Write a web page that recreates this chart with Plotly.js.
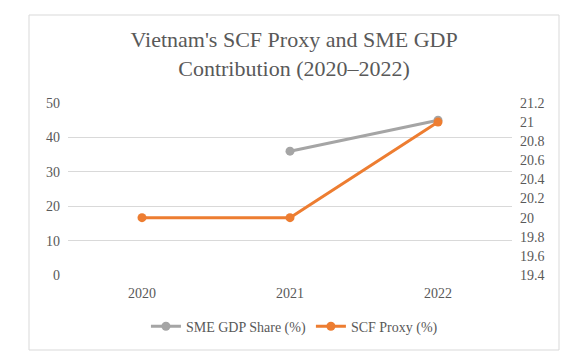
<!DOCTYPE html>
<html><head><meta charset="utf-8">
<script src="https://cdn.plot.ly/plotly-3.0.1.min.js"></script>
<style>html,body{margin:0;padding:0;background:#fff;}#chart{width:571px;height:360px;}</style>
</head><body><div id="chart"></div>
<script>
const years = ['2020', '2021', '2022'];
const smeGdpShare = [null, 36, 45];
const scfProxy = [20, 20, 21];
const titleText = "Vietnam's SCF Proxy and SME GDP<br>Contribution (2020–2022)";

const FONT = '"Liberation Serif", "Times New Roman", serif';
const TXT = '#595959';
const f = (s) => ({family: FONT, size: s, color: TXT});

const traces = [
  {x: years, y: smeGdpShare, name: 'SME GDP Share (%)', type: 'scatter', mode: 'lines+markers',
   line: {color: '#A5A5A5', width: 3}, marker: {color: '#A5A5A5', size: 9}, yaxis: 'y', connectgaps: false},
  {x: years, y: scfProxy, name: 'SCF Proxy (%)', type: 'scatter', mode: 'lines+markers',
   line: {color: '#ED7D31', width: 3}, marker: {color: '#ED7D31', size: 9}, yaxis: 'y2'}
];

const layout = {
  width: 571, height: 360,
  margin: {l: 68, r: 59, t: 103, b: 85},
  paper_bgcolor: '#ffffff', plot_bgcolor: 'rgba(0,0,0,0)',
  font: f(14),
  title: {text: titleText, font: f(22), x: 0.515, xanchor: 'center', y: 0.869, yanchor: 'middle'},
  showlegend: true,
  legend: {orientation: 'h', x: 0.51, xanchor: 'center', y: -0.3, yanchor: 'middle', font: f(14), itemwidth: 30, tracegroupgap: 0},
  xaxis: {type: 'category', range: [-0.5, 2.5], showgrid: false, zeroline: false, showline: false, ticks: '', tickfont: f(14), ticklabelstandoff: 8},
  yaxis: {range: [0, 50], dtick: 10, tick0: 0, gridcolor: '#D9D9D9', gridwidth: 1, zeroline: false, showline: false, ticks: '', tickfont: f(14), ticklabelstandoff: 7},
  yaxis2: {range: [19.4, 21.2], dtick: 0.2, tick0: 19.4, overlaying: 'y', side: 'right', showgrid: false, zeroline: false, showline: false, ticks: '', tickfont: f(14), ticklabelstandoff: 7},
  shapes: [
    {type: 'rect', xref: 'paper', yref: 'paper', x0: (29-68)/444, x1: (559-68)/444, y0: (275-350)/172, y1: (275-15)/172,
     line: {color: '#D9D9D9', width: 1}, fillcolor: 'rgba(0,0,0,0)', layer: 'below'}
  ]
};

Plotly.newPlot('chart', traces, layout, {displayModeBar: false, staticPlot: true});
</script></body></html>
